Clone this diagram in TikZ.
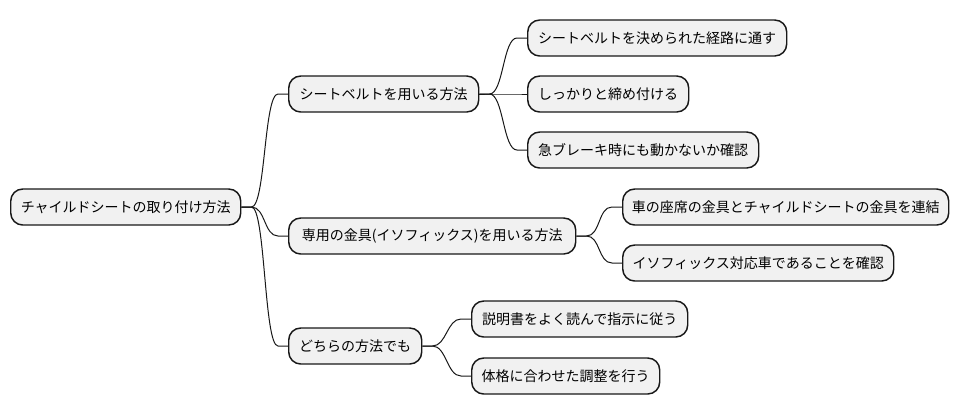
\documentclass[tikz,border=0pt]{standalone}
\usepackage{fontspec}
\newfontfamily\jpfont{Noto Sans CJK JP}
\usetikzlibrary{calc}
\definecolor{boxfill}{HTML}{F1F1F1}
\definecolor{boxline}{HTML}{181818}
\tikzset{
  mbox/.style={draw=boxline, fill=boxfill, line width=1.1pt, rounded corners=9pt,
    minimum height=27pt, inner xsep=0pt, inner ysep=0pt, anchor=west,
    font=\jpfont\fontsize{10.5pt}{12pt}\selectfont, text=black},
  link/.style={draw=boxline, line width=0.75pt}
}
\newcommand{\conn}[2]{%
  \draw[link] (#1.east) -- ++(10,0) .. controls +(14,0) and +(-14,0) .. ($(#2.west)+(-10,0)$) -- (#2.west);}
\begin{document}
\begin{tikzpicture}[x=0.75pt,y=-0.75pt]
\useasboundingbox (0,0) rectangle (961,415);
\node[mbox, minimum width=230*0.75pt] (root) at (10,207) {チャイルドシートの取り付け方法};
\node[mbox, minimum width=190*0.75pt] (a) at (288,94) {シートベルトを用いる方法};
\node[mbox, minimum width=259*0.75pt] (a1) at (527,38) {シートベルトを決められた経路に通す};
\node[mbox, minimum width=161*0.75pt] (a2) at (527,94) {しっかりと締め付ける};
\node[mbox, minimum width=231*0.75pt] (a3) at (527,150) {急ブレーキ時にも動かないか確認};
\node[mbox, minimum width=287*0.75pt] (b) at (288,236) {専用の金具(イソフィックス)を用いる方法};
\node[mbox, minimum width=326*0.75pt] (b1) at (622,207) {車の座席の金具とチャイルドシートの金具を連結};
\node[mbox, minimum width=271*0.75pt] (b2) at (622,263) {イソフィックス対応車であることを確認};
\node[mbox, minimum width=133*0.75pt] (c) at (288,346) {どちらの方法でも};
\node[mbox, minimum width=216*0.75pt] (c1) at (471,319) {説明書をよく読んで指示に従う};
\node[mbox, minimum width=188*0.75pt] (c2) at (471,376) {体格に合わせた調整を行う};
\conn{root}{a}
\conn{root}{b}
\conn{root}{c}
\conn{a}{a1}
\conn{a}{a2}
\conn{a}{a3}
\conn{b}{b1}
\conn{b}{b2}
\conn{c}{c1}
\conn{c}{c2}
\end{tikzpicture}
\end{document}
